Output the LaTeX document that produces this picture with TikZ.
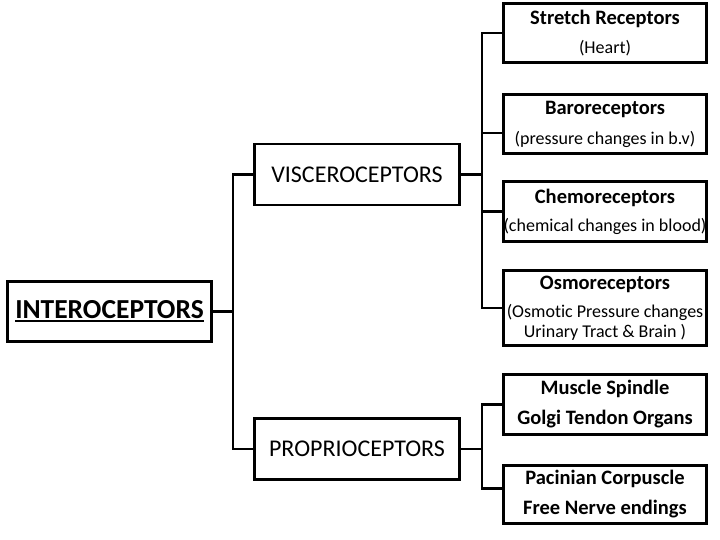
\documentclass[tikz,border=0pt]{standalone}
\usepackage{fontspec}
\setmainfont{Carlito}[Ligatures=NoCommon]
\usetikzlibrary{positioning}

\newcommand{\thickul}[1]{\setbox0\hbox{#1}\leavevmode\rlap{\rule[-3.5pt]{\wd0}{2pt}}\box0}
\newcommand{\rtitle}[1]{{\fontsize{20.5}{20}\selectfont\bfseries #1}}

\begin{document}
\begin{tikzpicture}[x=1pt,y=-1pt,
    box/.style={draw, line width=2.8pt, inner sep=0pt, align=center},
    leftbox/.style={box, minimum width=205pt, minimum height=61pt, font=\fontsize{24}{28}\selectfont},
    rightbox/.style={box, minimum width=203pt, font=\fontsize{18}{20}\selectfont},
    link/.style={line width=2.8pt}]
    \useasboundingbox (0,0) rectangle (720,540);

    % Left side: main class and its two groups
    \node[box, minimum width=204pt, minimum height=60pt, font=\fontsize{27.5}{30}\selectfont\bfseries] (inter) at (109.5,311.5) {\thickul{INTEROCEPTORS}};
    \node[leftbox] (visc) at (357,174.5) {VISCEROCEPTORS};
    \node[leftbox] (prop) at (357,449) {PROPRIOCEPTORS};

    % Right side: receptor boxes
    \node[rightbox, minimum height=59pt] (stretch) at (605,33) {\rtitle{Stretch Receptors}\\[9pt](Heart)};
    \node[rightbox, minimum height=59pt] (baro) at (605,124) {\rtitle{Baroreceptors}\\[10pt](pressure changes in b.v)};
    \node[rightbox, minimum height=60pt] (chemo) at (605,211.5) {\rtitle{Chemoreceptors}\\[8pt](chemical changes in blood)};
    \node[rightbox, minimum height=75pt] (osmo) at (605,308) {\rtitle{Osmoreceptors}\\[8pt](Osmotic Pressure changes\\Urinary Tract \& Brain )};
    \node[rightbox, minimum height=60pt] (muscle) at (605,404.5) {\rtitle{Muscle Spindle}\\[10pt]\rtitle{Golgi Tendon Organs}};
    \node[rightbox, minimum height=58pt] (pacin) at (605,494.5) {\rtitle{Pacinian Corpuscle}\\[10pt]\rtitle{Free Nerve endings}};

    % Trunks of the tree
    \coordinate (ltrunk) at (233,0);
    \coordinate (rtrunk) at (482,0);
    \coordinate (barolink) at ([yshift=-9pt]baro.west);
    \coordinate (pacinlink) at ([yshift=6pt]pacin.west);

    \draw[link] (inter.east) -- (inter.east -| ltrunk);
    \draw[link] (visc.west) -- (visc.west -| ltrunk) -- (ltrunk |- prop.west) -- (prop.west);

    \draw[link] (visc.east) -- (visc.east -| rtrunk);
    \draw[link] (stretch.west) -- (stretch.west -| rtrunk) -- (rtrunk |- osmo.west) -- (osmo.west);
    \draw[link] (barolink) -- (barolink -| rtrunk);
    \draw[link] (chemo.west) -- (chemo.west -| rtrunk);

    \draw[link] (prop.east) -- (prop.east -| rtrunk);
    \draw[link] (muscle.west) -- (muscle.west -| rtrunk) -- (rtrunk |- pacinlink) -- (pacinlink);
\end{tikzpicture}
\end{document}
